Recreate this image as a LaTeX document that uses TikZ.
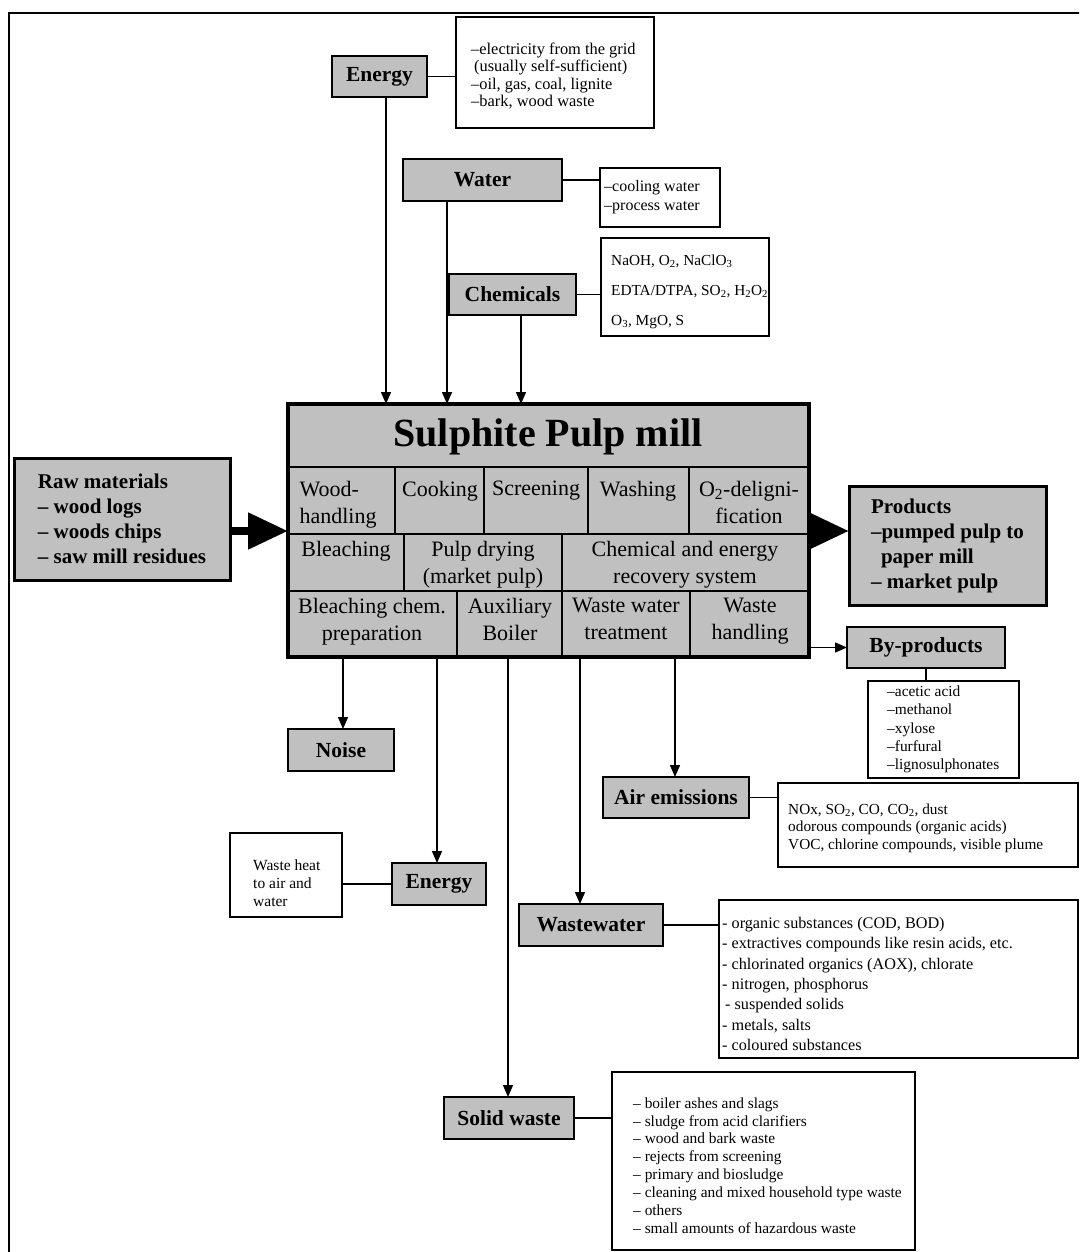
\documentclass[tikz,border=0pt]{standalone}
\usepackage{fontspec}
\setmainfont{Liberation Serif}
\usepackage{tikz}
\usetikzlibrary{arrows.meta}
\definecolor{boxgray}{HTML}{C0C0C0}

\begin{document}
\begin{tikzpicture}[x=1pt, y=-1pt,
  lbl/.style={draw, fill=boxgray, line width=1.5pt, inner sep=0pt, outer sep=0pt, anchor=north west,
    font=\bfseries\fontsize{21.5}{25}\selectfont},
  bigbox/.style={lbl, line width=3pt, align=left, font=\bfseries\fontsize{21}{25}\selectfont},
  listbox/.style={draw, line width=1.3pt, inner sep=0pt, outer sep=0pt, anchor=north west},
  listtxt/.style={anchor=west, align=left, inner sep=0pt},
  cell/.style={anchor=north, align=center, inner sep=0pt, font=\fontsize{22}{27}\selectfont},
  flow/.style={line width=1.4pt, -{Triangle[length=12pt, width=10pt]}},
  link/.style={line width=1.4pt},
  fat/.style={line width=8pt, -{Triangle[length=40pt, width=35pt]}}]

  \useasboundingbox (0,0) rectangle (1079,1252);
  \clip (0,0) rectangle (1079,1252);

  % Frame
  \draw[line width=2.5pt] (9,1260) -- (9,13) -- (1090,13);

  % Main mill block
  \node[draw, fill=boxgray, line width=4.5pt, inner sep=0pt, outer sep=0pt, anchor=north west,
        minimum width=521, minimum height=253] (mill) at (288,404) {};
  \node[inner sep=0pt, font=\bfseries\fontsize{40}{44}\selectfont] (title) at (548,437) {Sulphite Pulp mill};

  % Cell grid
  \begin{scope}[line width=1.5pt]
    \draw (288,467) -- (809,467);
    \draw (288,534) -- (809,534);
    \draw (288,591) -- (809,591);
    \foreach \x in {395,484,588,689} \draw (\x,467) -- (\x,534);
    \foreach \x in {404,562} \draw (\x,534) -- (\x,591);
    \foreach \x in {457,562,690} \draw (\x,591) -- (\x,657);
  \end{scope}

  % Cells
  \node[cell, align=left] (woodh) at (338,481) {Wood-\\handling};
  \node[cell] (cook) at (440,481) {Cooking};
  \node[cell] (screen) at (536,481) {Screening};
  \node[cell] (wash) at (638,481) {Washing};
  \node[cell] (odelig) at (749,481) {O\textsubscript{2}-deligni-\\fication};
  \node[cell] (bleach) at (346,541) {Bleaching};
  \node[cell] (pdry) at (483,541) {Pulp drying\\(market pulp)};
  \node[cell] (chrec) at (685,541) {Chemical and energy\\recovery system};
  \node[cell] (bchem) at (372,598) {Bleaching chem.\\preparation};
  \node[cell] (auxb) at (510,598) {Auxiliary\\Boiler};
  \node[cell] (wwt) at (626,598) {Waste water\\treatment};
  \node[cell] (wh) at (750,598) {Waste\\handling};

  % Inputs
  \node[lbl, minimum width=95, minimum height=41] (ein) at (332,56) {Energy};
  \node[listbox, minimum width=198, minimum height=111] (einl) at (456,17) {};
  \node[listtxt, font=\fontsize{16.4}{17.5}\selectfont] (eint) at ([xshift=15pt, yshift=-3.5pt]einl.west)
    {–electricity from the grid\\\hspace*{3pt}(usually self-sufficient)\\–oil, gas, coal, lignite\\–bark, wood waste};

  \node[lbl, minimum width=159, minimum height=42] (wat) at (403,159) {Water};
  \node[listbox, minimum width=120, minimum height=59] (watl) at (600,168) {};
  \node[listtxt, font=\fontsize{16}{19}\selectfont] (watt) at ([xshift=4pt]watl.west)
    {–cooling water\\–process water};

  \node[lbl, minimum width=127, minimum height=41] (chem) at (449,274) {Chemicals};
  \node[listbox, minimum width=168, minimum height=98] (cheml) at (601,238) {};
  \node[listtxt, font=\fontsize{15.3}{30}\selectfont] (chemt) at ([xshift=10pt, yshift=-5pt]cheml.west)
    {NaOH, O\textsubscript{2}, NaClO\textsubscript{3}\\EDTA/DTPA, SO\textsubscript{2}, H\textsubscript{2}O\textsubscript{2}\\O\textsubscript{3}, MgO, S};

  \node[bigbox, minimum width=216, minimum height=122] (raw) at (14,458)
    {Raw materials\\– wood logs\\– woods chips\\– saw mill residues};

  % Outputs
  \node[bigbox, minimum width=197, minimum height=119] (prod) at (849,486)
    {Products\\–pumped pulp to\\\hspace*{10pt}paper mill\\– market pulp};

  \node[lbl, minimum width=158, minimum height=41] (byp) at (847,627) {By-products};
  \node[listbox, minimum width=151, minimum height=97] (bypl) at (868,681) {};
  \node[listtxt, font=\fontsize{15.4}{18.3}\selectfont] (bypt) at ([xshift=19pt]bypl.west)
    {–acetic acid\\–methanol\\–xylose\\–furfural\\–lignosulphonates};

  \node[lbl, minimum width=106, minimum height=42] (noise) at (288,729) {Noise};

  \node[lbl, minimum width=146, minimum height=41] (air) at (603,777) {Air emissions};
  \node[listbox, minimum width=300, minimum height=84] (airl) at (778,783) {};
  \node[listtxt, font=\fontsize{15.3}{17.5}\selectfont] (airt) at ([xshift=10pt, yshift=-3pt]airl.west)
    {NOx, SO\textsubscript{2}, CO, CO\textsubscript{2}, dust\\odorous compounds (organic acids)\\VOC, chlorine compounds, visible plume};

  \node[lbl, minimum width=94, minimum height=42] (eout) at (392,863) {Energy};
  \node[listbox, minimum width=112, minimum height=84] (eoutl) at (230,833) {};
  \node[listtxt, font=\fontsize{15.5}{18}\selectfont] (eoutt) at ([xshift=23pt, yshift=-8pt]eoutl.west)
    {Waste heat\\to air and\\water};

  \node[lbl, minimum width=144, minimum height=42] (ww) at (519,904) {Wastewater};
  \node[listbox, minimum width=359, minimum height=158] (wwl) at (719,900) {};
  \node[listtxt, font=\fontsize{16.2}{20.3}\selectfont] (wwt) at ([xshift=3pt, yshift=-5pt]wwl.west)
    {- organic substances (COD, BOD)\\- extractives compounds like resin acids, etc.\\- chlorinated organics (AOX), chlorate\\- nitrogen, phosphorus\\\hspace*{3pt}- suspended solids\\- metals, salts\\- coloured substances};

  \node[lbl, minimum width=130, minimum height=42] (solid) at (444,1097) {Solid waste};
  \node[listbox, minimum width=303, minimum height=178] (solidl) at (612,1072) {};
  \node[listtxt, font=\fontsize{15.4}{17.9}\selectfont] (solidt) at ([xshift=21pt, yshift=-4.5pt]solidl.west)
    {– boiler ashes and slags\\– sludge from acid clarifiers\\– wood and bark waste\\– rejects from screening\\– primary and biosludge\\– cleaning and mixed household type waste\\– others\\– small amounts of hazardous waste};

  % Flows into the mill
  \draw[flow] (386,0 |- ein.south) -- (386,0 |- mill.north);
  \draw[flow] (447,0 |- wat.south) -- (447,0 |- mill.north);
  \draw[flow] (521,0 |- chem.south) -- (521,0 |- mill.north);
  \draw[fat] (raw.east |- 0,531) -- (mill.west |- 0,531);

  % Flows out of the mill
  \draw[fat] (mill.east |- 0,531) -- (prod.west |- 0,531);
  \draw[flow] (mill.east |- byp.west) -- (byp.west);
  \draw[flow] (343,0 |- mill.south) -- (343,0 |- noise.north);
  \draw[flow] (437,0 |- mill.south) -- (437,0 |- eout.north);
  \draw[flow] (508,0 |- mill.south) -- (508,0 |- solid.north);
  \draw[flow] (580,0 |- mill.south) -- (580,0 |- ww.north);
  \draw[flow] (675,0 |- mill.south) -- (675,0 |- air.north);

  % Links to the lists
  \draw[link] (ein.east) -- (ein.east -| einl.west);
  \draw[link] (wat.east) -- (wat.east -| watl.west);
  \draw[link] (chem.east) -- (chem.east -| cheml.west);
  \draw[link] (byp.south) -- (byp.south |- bypl.north);
  \draw[link] (air.east) -- (air.east -| airl.west);
  \draw[link] (eout.west) -- (eout.west -| eoutl.east);
  \draw[link] (ww.east) -- (ww.east -| wwl.west);
  \draw[link] (solid.east) -- (solid.east -| solidl.west);
\end{tikzpicture}
\end{document}
